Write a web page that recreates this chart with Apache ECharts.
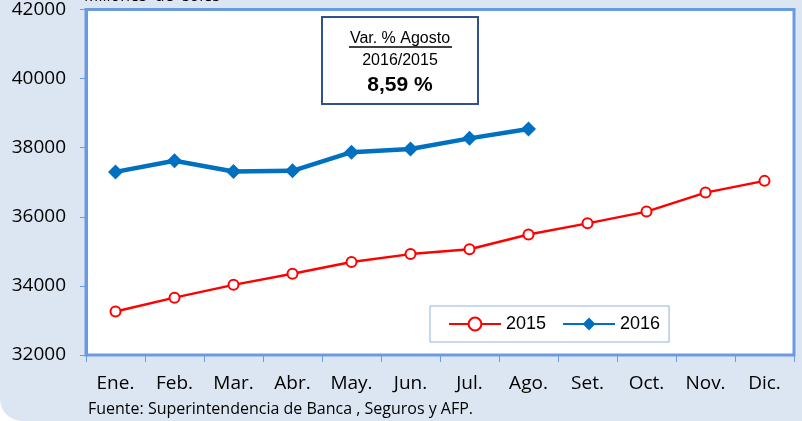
<!DOCTYPE html>
<html>
<head>
<meta charset="utf-8">
<script src="https://cdn.jsdelivr.net/npm/echarts@6/dist/echarts.min.js"></script>
<style>
  html, body { margin:0; padding:0; background:#fff; }
  #chart { width:802px; height:421px; background:#dce6f2; border-radius:0 0 0 22px; overflow:hidden; }
</style>
</head>
<body>
<div id="chart"></div>
<script>
var months = ['Ene.','Feb.','Mar.','Abr.','May.','Jun.','Jul.','Ago.','Set.','Oct.','Nov.','Dic.']
var y2015 = [33260, 33660, 34030, 34350, 34690, 34920, 35060, 35490, 35810, 36150, 36700, 37040]
var y2016 = [37300, 37620, 37310, 37330, 37870, 37960, 38270, 38540]
var yTicks = {min: 32000, max: 42000, step: 2000}

var myChart = echarts.init(document.getElementById('chart'))
var font = '"Open Sans", Lato, sans-serif'

var option = {
    backgroundColor: 'transparent',
    animation: false,
    grid: {
        left: 86, right: 8, top: 7, bottom: 66,
        show: true,
        backgroundColor: '#fff',
        borderColor: '#6a9be0',
        borderWidth: 3
    },
    legend: {
        left: 430, top: 306,
        padding: [9, 9, 9, 18],
        borderColor: '#8fb1e3',
        borderWidth: 1,
        backgroundColor: '#fff',
        itemWidth: 52,
        itemHeight: 16,
        itemGap: 16,
        textStyle: {fontFamily: 'Arial, "Liberation Sans"', fontSize: 18, color: '#000'},
        data: ['2015', '2016']
    },
    xAxis: {
        type: 'category',
        data: months,
        boundaryGap: true,
        axisLine: {lineStyle: {color: '#6a9be0', width: 2}},
        axisTick: {show: true, length: 7, lineStyle: {color: '#6a9be0', width: 1}},
        axisLabel: {color: '#000', fontFamily: font, fontSize: 19, margin: 19},
        splitLine: {show: false}
    },
    yAxis: {
        type: 'value',
        min: yTicks.min, max: yTicks.max, interval: yTicks.step,
        axisLine: {show: true, lineStyle: {color: '#6a9be0', width: 3}},
        axisTick: {show: true, length: 6, lineStyle: {color: '#6a9be0', width: 1}},
        axisLabel: {color: '#000', fontFamily: font, fontSize: 19, margin: 20, formatter: function (v) { return String(v) }},
        splitLine: {show: false}
    },
    graphic: [
        {type: 'text', left: 84, top: -12, style: {text: 'Millones  de  soles', font: '16px ' + font, fill: '#000'}},
        {type: 'rect', shape: {x: 322, y: 17, width: 156, height: 87}, style: {fill: '#fff', stroke: '#2f528f', lineWidth: 2}, z: 10},
        {type: 'text', x: 400, y: 39, style: {text: 'Var. % Agosto', font: '16px Arial, "Liberation Sans"', fill: '#000', align: 'center', verticalAlign: 'middle'}, z: 11},
        {type: 'line', shape: {x1: 349, y1: 47, x2: 452, y2: 47}, style: {stroke: '#000', lineWidth: 1.5}, z: 11},
        {type: 'text', x: 400, y: 61, style: {text: '2016/2015', font: '16px Arial, "Liberation Sans"', fill: '#000', align: 'center', verticalAlign: 'middle'}, z: 11},
        {type: 'text', x: 400, y: 85, style: {text: '8,59 %', font: 'bold 21px Arial, "Liberation Sans"', fill: '#000', align: 'center', verticalAlign: 'middle'}, z: 11},
        {type: 'text', left: 88, top: 401, style: {text: 'Fuente: Superintendencia de Banca , Seguros y AFP.', font: '16px ' + font, fill: '#000'}}
    ],
    series: [
        {
            name: '2015',
            type: 'line',
            data: y2015,
            symbol: 'emptyCircle',
            symbolSize: 10,
            color: '#ff0000',
            lineStyle: {width: 2.5, color: '#ff0000'},
            itemStyle: {borderColor: '#ff0000', borderWidth: 2}
        },
        {
            name: '2016',
            type: 'line',
            data: y2016,
            symbol: 'diamond',
            symbolSize: 15,
            color: '#0070c0',
            lineStyle: {width: 4.5, color: '#0070c0'},
            itemStyle: {color: '#0070c0'}
        }
    ]
}
myChart.setOption(option)
</script>
</body>
</html>
